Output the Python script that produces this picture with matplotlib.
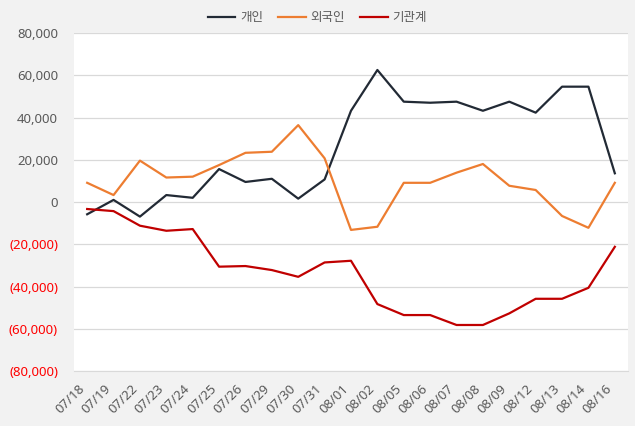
import matplotlib
matplotlib.use("Agg")
import matplotlib.pyplot as plt
from matplotlib.ticker import FuncFormatter

plt.rcParams['font.family'] = ['Noto Sans', 'Noto Sans CJK KR', 'DejaVu Sans']

# DATA #
dates = ["07/18", "07/19", "07/22", "07/23", "07/24", "07/25", "07/26", "07/29", "07/30", "07/31",
         "08/01", "08/02", "08/05", "08/06", "08/07", "08/08", "08/09", "08/12", "08/13", "08/14", "08/16"]
individual = [-5800, 1000, -6900, 3300, 2000, 15600, 9500, 11000, 1600, 10700,
              43200, 62500, 47500, 47000, 47500, 43200, 47500, 42300, 54600, 54600, 13600]
foreign = [9100, 3300, 19600, 11600, 12000, 17500, 23300, 23800, 36400, 20700,
           -13200, -11700, 9100, 9100, 13900, 18000, 7700, 5700, -6600, -12200, 9100]
institution = [-3300, -4300, -11200, -13600, -12800, -30600, -30300, -32200, -35400, -28600,
               -27800, -48300, -53500, -53500, -58200, -58200, -52700, -45800, -45800, -40600, -21200]
seriesNames = ["개인", "외국인", "기관계"]
colors = ["#222a35", "#ed7d31", "#c00000"]

fig = plt.figure(figsize=(6.35, 4.26), dpi=100, facecolor="#f2f2f2")
ax = fig.add_axes([0.1165, 0.129, 0.8725, 0.7935])
ax.set_facecolor("white")

x = list(range(len(dates)))
for vals, name, c in zip([individual, foreign, institution], seriesNames, colors):
    ax.plot(x, vals, color=c, lw=1.6, label=name)

ax.set_xlim(-0.5, len(dates) - 0.5)
ax.set_ylim(-80000, 80000)
ax.set_yticks(range(-80000, 80001, 20000))
ax.yaxis.set_major_formatter(FuncFormatter(lambda v, p: f"({abs(v):,.0f})" if v < 0 else f"{v:,.0f}"))
ax.set_xticks(x)
ax.set_xticklabels(dates, rotation=45, ha="right")
ax.grid(axis="y", color="#d9d9d9", lw=0.9)
ax.set_axisbelow(True)
for s in ["top", "right", "left"]:
    ax.spines[s].set_visible(False)
ax.spines["bottom"].set_color("#d9d9d9")
ax.tick_params(length=0, labelsize=9.5, labelcolor="#595959")
ax.tick_params(axis="y", pad=11.5)
ax.tick_params(axis="x", pad=8)
for lab, v in zip(ax.get_yticklabels(), ax.get_yticks()):
    if v < 0:
        lab.set_color("#ff0000")

fig.legend(loc="center", bbox_to_anchor=(0.5, 1 - 18 / 426), ncol=3, frameon=False,
           fontsize=9, labelcolor="#595959", handlelength=2.2, handletextpad=0.4,
           columnspacing=1.2)

fig.savefig("out.png", dpi=100, facecolor=fig.get_facecolor())
